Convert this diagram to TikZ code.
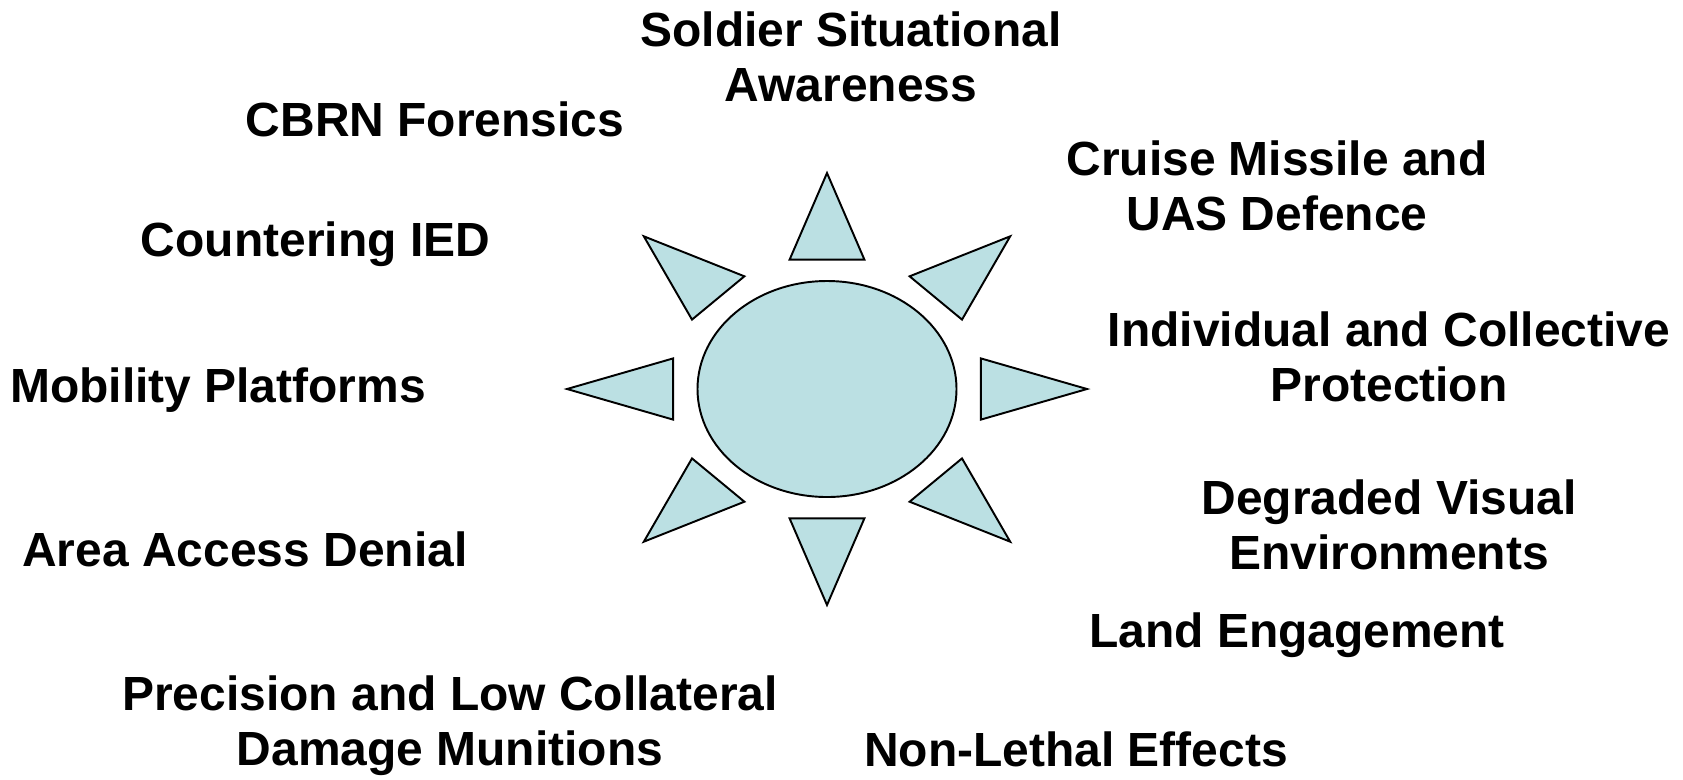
\documentclass[tikz,border=0pt]{standalone}
\usepackage{fontspec}
\setmainfont{Liberation Sans}
\definecolor{sunblue}{HTML}{BBE0E3}

\begin{document}
\begin{tikzpicture}[x=0.02cm, y=-0.02cm,
    ray/.style = {draw=black, fill=sunblue, line width=1.1pt, line join=miter},
    topic/.style = {font=\fontsize{27.3}{31.2}\selectfont\bfseries, align=center, inner sep=0pt, anchor=base}]
    \useasboundingbox (0,0) rectangle (1683,779);
    % the sun in the middle
    \begin{scope}[shift={(827,389)}]
      \draw[ray] (0,0) ellipse [x radius=129.5, y radius=108];
      \foreach \s in {1,-1} {
        \draw[ray] (0,-216*\s) -- (37.4,-129.4*\s) -- (-37.4,-129.4*\s) -- cycle;
        \draw[ray] (-260*\s,0) -- (-153.9*\s,-30.6) -- (-153.9*\s,30.6) -- cycle;
        \foreach \t in {1,-1}
          \draw[ray] (-183.2*\s,-152.7*\t) -- (-82.6*\s,-112.7*\t) -- (-135*\s,-69.4*\t) -- cycle;
      }
    \end{scope}
    % the topics round it (base = last line)
    \node[topic] (sa) at (851,101.7) {Soldier Situational\\Awareness};
    \node[topic] (cbrn) at (435,136) {CBRN Forensics};
    \node[topic] (cmd) at (1277,230) {Cruise Missile and\\UAS Defence};
    \node[topic] (ied) at (315.5,256.7) {Countering IED};
    \node[topic] (prot) at (1389,401.7) {Individual and Collective\\Protection};
    \node[topic] (mob) at (218,402.7) {Mobility Platforms};
    \node[topic] (dve) at (1389,569) {Degraded Visual\\Environments};
    \node[topic] (aad) at (245,566.7) {Area Access Denial};
    \node[topic] (land) at (1297,647) {Land Engagement};
    \node[topic] (mun) at (450,765) {Precision and Low Collateral\\Damage Munitions};
    \node[topic] (nle) at (1076,766) {Non-Lethal Effects};
\end{tikzpicture}
\end{document}
